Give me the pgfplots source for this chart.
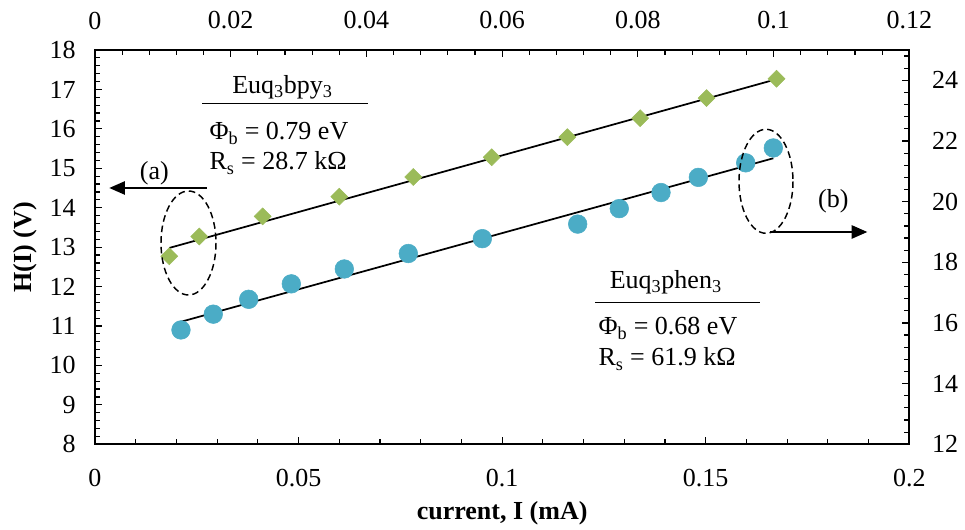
\documentclass[border=0pt]{standalone}
\usepackage{pgfplots}
\pgfplotsset{compat=1.18}
\usepackage{fontspec}
\setmainfont{Liberation Serif}
\usetikzlibrary{arrows.meta}
\definecolor{bpy}{HTML}{9BBB59}
\definecolor{phen}{HTML}{4BACC6}

\pgfplotstableread{
x y
0.01825 12.77
0.02562 13.27
0.04119 13.78
0.06000 14.28
0.07818 14.78
0.09743 15.28
0.11600 15.79
0.13390 16.27
0.15020 16.78
0.16740 17.27
}\bpydata

\pgfplotstableread{
x y
0.01267 15.77
0.01743 16.29
0.02265 16.78
0.02893 17.29
0.03674 17.78
0.04617 18.29
0.05708 18.78
0.07113 19.26
0.07726 19.77
0.08341 20.30
0.08891 20.80
0.09589 21.28
0.09996 21.77
}\phendata

\begin{document}
\begin{tikzpicture}[font=\fontsize{19.5}{23.4}\selectfont]
\useasboundingbox (-71.25pt,-64.275pt) rectangle (652.5pt,333.225pt);
\pgfplotsset{
 common/.style={
   scale only axis, width=610.725pt, height=295.725pt,
   at={(0,0)}, anchor=south west,
   axis line style={line width=1.4pt},
   tick style={line width=0.9pt, black},
   major tick length=5.25pt, minor tick length=3.75pt,
   tick align=inside,
   /pgf/number format/assume math mode=true,
   /pgf/number format/fixed,
   /pgf/number format/precision=2,
   clip=false,
   every tick label/.append style={font=\rmfamily\fontsize{19.5}{23.4}\selectfont},
 }
}
\begin{axis}[common,
  xmin=0, xmax=0.2, ymin=8, ymax=18,
  xtick={0,0.05,0.1,0.15,0.2},
  minor xtick={0.01,0.02,0.03,0.04,0.06,0.07,0.08,0.09,0.11,0.12,0.13,0.14,0.16,0.17,0.18,0.19},
  ytick={8,9,10,11,12,13,14,15,16,17,18},
  minor y tick num=4,
  xtick pos=left, ytick pos=left,
  xticklabel shift=15.5pt, yticklabel shift=11pt,
  xlabel={\textbf{current, I (mA)}},
  ylabel={\textbf{H(I) (V)}},
  xlabel style={at={(axis description cs:0.5,-0.192)}, anchor=base},
  ylabel style={at={(axis description cs:-0.086,0.5)}, anchor=center},
]
\addplot[only marks, color=bpy, mark=square*, mark size=4.5pt, mark options={rotate=45, solid, draw=bpy, fill=bpy}] table[x=x,y=y] {\bpydata};
\addplot[black, line width=1.3pt, no marks] coordinates {(0.01825,12.98) (0.1674,17.26)};
\end{axis}
\begin{axis}[common,
  xmin=0, xmax=0.12, ymin=12, ymax=25,
  xtick={0,0.02,0.04,0.06,0.08,0.1,0.12},
  minor x tick num=4,
  ytick={12,14,16,18,20,22,24},
  minor ytick={12.4,12.8,13.2,13.6,14.4,14.8,15.2,15.6,16.4,16.8,17.2,17.6,18.4,18.8,19.2,19.6,20.4,20.8,21.2,21.6,22.4,22.8,23.2,23.6,24.4,24.8},
  xtick pos=right, ytick pos=right,
  xticklabel pos=right, yticklabel pos=right,
  xticklabel shift=12pt, yticklabel shift=13.5pt,
]
\addplot[only marks, color=phen, mark=*, mark size=7pt, mark options={solid, draw=phen, fill=phen}] table[x=x,y=y] {\phendata};
\addplot[black, line width=1.3pt, no marks] coordinates {(0.01267,16.04) (0.09996,21.43)};
\end{axis}
\begin{scope}[x=0.75pt, y=-0.75pt, shift={(-71.25pt,333.225pt)}]
  \draw[line width=1.1pt, dash pattern=on 5pt off 3pt] (188.5,243) ellipse [x radius=27.5, y radius=52];
  \draw[line width=1.1pt, dash pattern=on 5pt off 3pt] (766,181.3) ellipse [x radius=27, y radius=52];
  \draw[line width=1.1pt, -{Triangle[length=11.7pt,width=10pt]}] (206.7,188) -- (109.3,188);
  \draw[line width=1.1pt, -{Triangle[length=11.7pt,width=10pt]}] (770,232) -- (867.3,232);
  \node[anchor=base, inner sep=0] at (154.3,180) {(a)};
  \node[anchor=base, inner sep=0] at (833.3,208) {(b)};
  \node[anchor=base, inner sep=0] at (282.5,93.3) {Euq\textsubscript{3}bpy\textsubscript{3}};
  \draw[line width=1pt] (202.3,103.3) -- (367.7,103.3);
  \node[anchor=base west, inner sep=0] at (209.3,140) {Φ\textsubscript{b} = 0.79 eV};
  \node[anchor=base west, inner sep=0] at (209.3,170) {R\textsubscript{s} = 28.7 kΩ};
  \node[anchor=base, inner sep=0] at (665.8,288.3) {Euq\textsubscript{3}phen\textsubscript{3}};
  \draw[line width=1pt] (595,302.7) -- (760,302.7);
  \node[anchor=base west, inner sep=0] at (598.3,335) {Φ\textsubscript{b} = 0.68 eV};
  \node[anchor=base west, inner sep=0] at (598.3,366) {R\textsubscript{s} = 61.9 kΩ};
\end{scope}
\end{tikzpicture}
\end{document}
